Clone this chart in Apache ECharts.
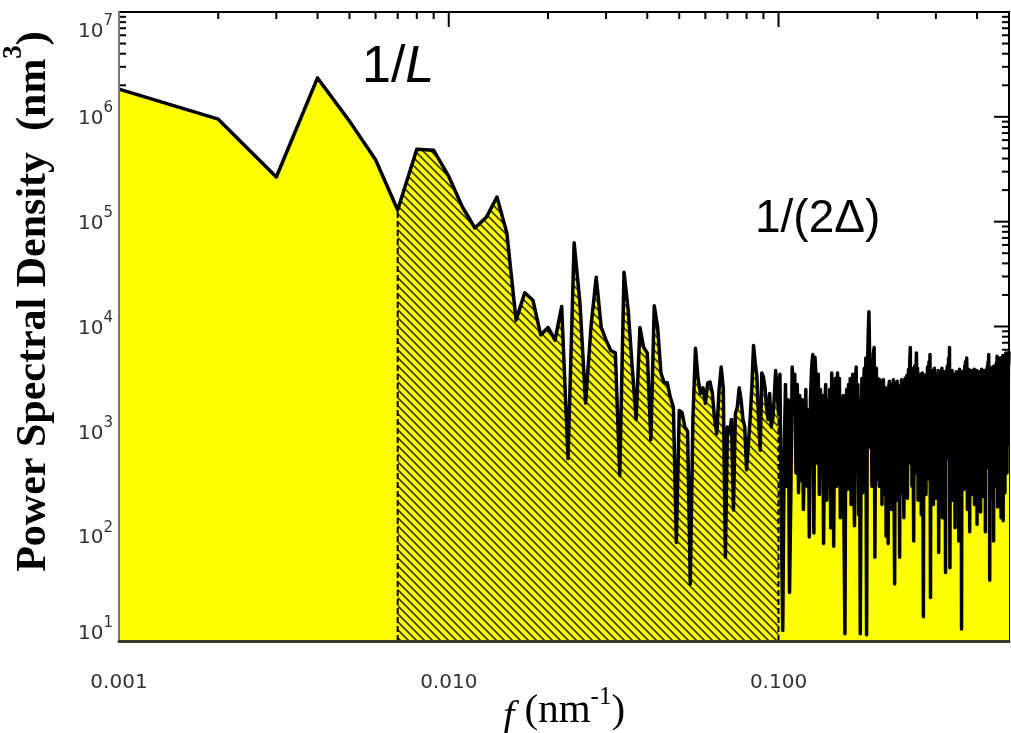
<!DOCTYPE html>
<html><head><meta charset="utf-8">
<script src="https://cdn.jsdelivr.net/npm/echarts@6/dist/echarts.min.js"></script>
<style>html,body{margin:0;padding:0;background:#fff}#c{width:1011px;height:733px}</style>
</head><body><div id="c"></div><script>
// frequency grid spacing (nm^-1); point k sits at k * fStep
const fStep = 0.001;
// power spectral density (nm^3), points k = 1..100
const psdLow = [
 1840000, 950000, 267000, 2350000, 910000, 390000, 129000, 490000, 480000, 270000,
 138000, 87000, 110000, 172000, 78000, 11500, 21000, 17800, 8300, 9800,
 7400, 15500, 550, 63000, 16600, 1860, 10000, 29500, 9800, 7400,
 5900, 5600, 380, 33000, 14500, 4100, 1300, 9800, 6300, 5600,
 830, 15800, 9800, 3600, 2900, 2900, 2100, 1700, 87, 1580,
 1510, 1100, 1000, 35, 1300, 6200, 3200, 2300, 2600, 1850,
 2900, 2950, 2300, 1300, 950, 2450, 4100, 2600, 63, 1100,
 950, 1300, 178, 1480, 1700, 2600, 2000, 1300, 1100, 430,
 740, 1300, 2600, 6600, 4500, 3300, 1300, 660, 3600, 3300,
 2600, 1700, 1300, 2300, 1100, 1300, 2000, 3800, 2600, 1480
];
// points k = 101..200
const psdMid = [
 3500, 140, 12.6, 600, 2800, 300, 2000, 29, 250, 4100,
 2500, 3500, 400, 2800, 260, 2200, 340, 2000, 180, 900,
 2500, 300, 1600, 98, 2000, 4000, 5400, 107, 5100, 3200,
 500, 3500, 250, 2500, 700, 2200, 85, 1600, 2800, 220,
 2000, 450, 2500, 120, 3600, 2000, 80, 2500, 3200, 300,
 3600, 600, 3200, 150, 2000, 400, 2200, 110, 11.7, 1600,
 2500, 280, 2800, 500, 3200, 200, 2000, 3500, 350, 126,
 2500, 4100, 600, 2800, 160, 2000, 11.7, 700, 3200, 260,
 2500, 4000, 450, 5000, 11.5, 3200, 8000, 13800, 5000, 700,
 4000, 300, 3200, 5600, 6300, 63, 2500, 4000, 350, 3200
];
// points k = 201..500
const psdHigh = [
 2800, 300, 3100, 600, 2400, 200, 2900, 3100, 700, 250,
 2600, 100, 2200, 450, 85, 2700, 3000, 350, 2400, 180,
 2800, 700, 3100, 300, 35, 2500, 2900, 400, 3000, 220,
 2400, 2700, 63, 2600, 500, 3100, 260, 2500, 800, 150,
 2800, 3200, 350, 2600, 3400, 230, 3000, 3900, 500, 4500,
 6300, 700, 4000, 300, 3300, 900, 90, 3600, 4200, 400,
 3800, 5600, 800, 4000, 220, 3300, 1000, 350, 3500, 2900,
 160, 3100, 3600, 400, 17, 2800, 3400, 600, 3000, 250,
 3500, 900, 4100, 350, 3300, 4600, 700, 5400, 26, 3200,
 3800, 300, 3400, 1000, 200, 3600, 4000, 500, 3200, 800,
 230, 3500, 2900, 450, 3800, 70, 3100, 3600, 600, 2900,
 320, 3300, 4000, 150, 3400, 900, 3700, 400, 2900, 3300,
 45, 3100, 3800, 550, 4200, 800, 3600, 5000, 650, 6300,
 50, 3500, 1000, 380, 3200, 3800, 220, 3000, 3500, 480,
 2800, 3300, 120, 3100, 800, 3700, 330, 3400, 2900, 600,
 3600, 90, 3200, 3900, 420, 3000, 900, 3500, 13, 3300,
 3700, 500, 3100, 1000, 280, 3400, 4200, 700, 4600, 3000,
 350, 5000, 3600, 180, 3300, 1100, 3900, 450, 3200, 110,
 3500, 3000, 550, 3800, 900, 3300, 250, 3600, 2900, 400,
 3400, 3900, 200, 3100, 900, 3500, 320, 3300, 3800, 130,
 3000, 3600, 450, 3200, 800, 3700, 280, 3400, 3000, 170,
 3500, 1000, 3900, 500, 3300, 3600, 240, 3100, 900, 3800,
 380, 3400, 3000, 110, 3600, 3200, 600, 3900, 800, 4200,
 450, 4600, 3500, 5400, 700, 3700, 38, 3300, 4000, 400,
 3600, 1000, 3800, 230, 3400, 4100, 550, 3500, 90, 3700,
 4200, 650, 3600, 1100, 300, 4000, 3300, 4500, 420, 5200,
 3800, 190, 4400, 3600, 800, 4800, 3300, 350, 4300, 5000,
 700, 4100, 150, 3900, 4600, 560, 4200, 1200, 5300, 140,
 4000, 4700, 900, 4300, 1300, 260, 4800, 4100, 5600, 650,
 4400, 5000, 400, 4600, 1400, 5400, 750, 4900, 4300, 5800
];
// the two marked frequencies (nm^-1): 1/L and 1/(2Δ)
const markFreqs = [0.007, 0.1];
// axis ranges and tick values
const xRange = [0.001, 0.5];
const yRange = [10, 1e7];
const xMajorTicks = [0.01, 0.1];
const xMinorTicks = [0.002,0.003,0.004,0.005,0.006,0.007,0.008,0.009,
  0.02,0.03,0.04,0.05,0.06,0.07,0.08,0.09, 0.2,0.3,0.4];
const yMajorTicks = [100, 1000, 10000, 100000, 1000000];
const yMinorTicks = [20,30,40,50,60,70,80,90, 200,300,400,500,600,700,800,900,
  2000,3000,4000,5000,6000,7000,8000,9000, 20000,30000,40000,50000,60000,70000,80000,90000,
  200000,300000,400000,500000,600000,700000,800000,900000,
  2000000,3000000,4000000,5000000,6000000,7000000,8000000,9000000];

const psd = psdLow.concat(psdMid, psdHigh);
const data = psd.map((v, i) => [+((i + 1) * fStep).toFixed(3), v]);
const hatchData = data.filter(d => d[0] >= markFreqs[0] - 1e-9 && d[0] <= markFreqs[1] + 1e-9);
const valAt = f => data.find(d => Math.abs(d[0] - f) < 1e-9)[1];

// hatch pattern tile
const pc = document.createElement('canvas');
pc.width = 8; pc.height = 8;
const g = pc.getContext('2d');
g.strokeStyle = '#3a3a00'; g.lineWidth = 1.6;
g.beginPath();
g.moveTo(-1, -1); g.lineTo(9, 9);
g.moveTo(-1, 7); g.lineTo(1, 9);
g.moveTo(7, -1); g.lineTo(9, 1);
g.stroke();

const tickData = [];
xMajorTicks.forEach(v => tickData.push([v, yRange[0], 1, 0]));
xMinorTicks.forEach(v => tickData.push([v, yRange[0], 0, 0]));
yMajorTicks.forEach(v => tickData.push([xRange[0], v, 1, 1]));
yMinorTicks.forEach(v => tickData.push([xRange[0], v, 0, 1]));

const chart = echarts.init(document.getElementById('c'), null, {renderer: 'canvas'});
const supStyle = (pt, pb, ps) => ({
  B: {fontSize: 20, fontFamily: 'DejaVu Sans', color: '#333', verticalAlign: 'top', padding: [pt, 0, pb, 0]},
  S: {fontSize: 15, fontFamily: 'DejaVu Sans', color: '#333', verticalAlign: 'top', padding: [ps, 0, 0, 0]}
});
const sM = supStyle(8, 4, 0), sT = supStyle(40, 0, 32), sBt = supStyle(8, 22, 0);

chart.setOption({
  animation: false,
  backgroundColor: '#fff',
  grid: {left: 119, top: 12, right: 2, bottom: 92, containLabel: false, outerBoundsMode: 'none',
    show: true, borderColor: '#000', borderWidth: 2, backgroundColor: 'transparent'},
  xAxis: {
    type: 'log', logBase: 10, min: xRange[0], max: xRange[1], z: 6,
    axisLine: {show: true, onZero: false, lineStyle: {color: '#3a3a2a', width: 3}},
    axisTick: {show: false}, splitLine: {show: false}, minorTick: {show: false},
    axisLabel: {
      margin: 32, fontSize: 20, fontFamily: 'DejaVu Sans', color: '#333',
      formatter: v => { const e = Math.log10(v); return Math.abs(e - Math.round(e)) < 1e-6 ? v.toFixed(3) : ''; }
    },
    name: '{i|f} (nm{s|-1})', nameLocation: 'middle', nameGap: 44, nameMoveOverlap: false,
    nameTextStyle: {
      fontFamily: 'Liberation Serif', fontSize: 41, color: '#000',
      rich: {
        i: {fontFamily: 'Liberation Serif', fontStyle: 'italic', fontSize: 41, color: '#000', verticalAlign: 'top', padding: [12, 0, 0, 0]},
        s: {fontFamily: 'Liberation Serif', fontSize: 25, color: '#000', verticalAlign: 'top', padding: [0, 0, 0, 0]}
      }
    }
  },
  yAxis: {
    type: 'log', logBase: 10, min: yRange[0], max: yRange[1], z: 6,
    axisLine: {show: true, onZero: false, lineStyle: {color: '#777', width: 2}},
    axisTick: {show: false}, splitLine: {show: false}, minorTick: {show: false},
    axisLabel: {
      margin: 6,
      formatter: v => {
        const e = Math.round(Math.log10(v));
        const k = e === 7 ? 't' : (e === 1 ? 'b' : 'm');
        return '{' + k + 'B|10}{' + k + 'S|' + e + '}';
      },
      rich: {mB: sM.B, mS: sM.S, tB: sT.B, tS: sT.S, bB: sBt.B, bS: sBt.S}
    },
    name: '{t|Power Spectral Density  (nm}{s|3}{t|)}', nameLocation: 'middle', nameGap: 64, nameRotate: 90,
    nameMoveOverlap: false,
    nameTextStyle: {
      padding: [0, 0, 0, 50],
      rich: {
        t: {fontFamily: 'Liberation Serif', fontWeight: 'bold', fontSize: 42, color: '#000', verticalAlign: 'top', padding: [12, 0, 0, 0]},
        s: {fontFamily: 'Liberation Serif', fontWeight: 'bold', fontSize: 27, color: '#000', verticalAlign: 'top', padding: [0, 0, 0, 0]}
      }
    }
  },
  graphic: [
    {type: 'text', left: 362, top: 42, z: 10, style: {text: '{n|1/}{i|L}', fill: '#000',
      rich: {n: {fontFamily: 'Liberation Sans', fontSize: 52, fill: '#000'}, i: {fontFamily: 'Liberation Sans', fontStyle: 'italic', fontSize: 52, fill: '#000'}}}},
    {type: 'text', left: 755, top: 196, z: 10, style: {text: '1/(2Δ)', fill: '#000', fontFamily: 'Liberation Sans', fontSize: 46}}
  ],
  series: [
    {
      type: 'custom', z: 1, silent: true, clip: false,
      encode: {x: 0, y: 1},
      data: tickData,
      renderItem: (params, api) => {
        const cs = params.coordSys;
        const major = api.value(2), vert = api.value(3);
        const p = api.coord([api.value(0), api.value(1)]);
        const len = major ? 15 : 7;
        const st = {stroke: '#000', lineWidth: 2};
        if (!vert) {
          return {type: 'group', children: [
            {type: 'line', shape: {x1: p[0], y1: cs.y, x2: p[0], y2: cs.y + len}, style: st},
            {type: 'line', shape: {x1: p[0], y1: cs.y + cs.height, x2: p[0], y2: cs.y + cs.height - len}, style: st}
          ]};
        }
        return {type: 'group', children: [
          {type: 'line', shape: {x1: cs.x, y1: p[1], x2: cs.x + len, y2: p[1]}, style: st},
          {type: 'line', shape: {x1: cs.x + cs.width, y1: p[1], x2: cs.x + cs.width - len, y2: p[1]}, style: st}
        ]};
      }
    },
    {
      type: 'line', z: 2, data: data, showSymbol: false, silent: true,
      lineStyle: {width: 0, opacity: 0},
      areaStyle: {color: '#ffff00', opacity: 1, origin: 'start'}
    },
    {
      type: 'line', z: 3, data: hatchData, showSymbol: false, silent: true,
      lineStyle: {width: 0, opacity: 0},
      areaStyle: {color: {image: pc, repeat: 'repeat'}, opacity: 1, origin: 'start'}
    },
    {
      type: 'line', z: 4, data: data, showSymbol: false, silent: true,
      lineStyle: {color: '#000', width: 3.5, join: 'round'}
    },
    {
      type: 'line', z: 5, data: [[markFreqs[0], yRange[0]], [markFreqs[0], valAt(markFreqs[0])]],
      showSymbol: false, silent: true, lineStyle: {color: '#000', width: 2, type: [6, 3]}
    },
    {
      type: 'line', z: 5, data: [[markFreqs[1], yRange[0]], [markFreqs[1], valAt(markFreqs[1])]],
      showSymbol: false, silent: true, lineStyle: {color: '#000', width: 2, type: [6, 3]}
    }
  ]
});
</script></body></html>
